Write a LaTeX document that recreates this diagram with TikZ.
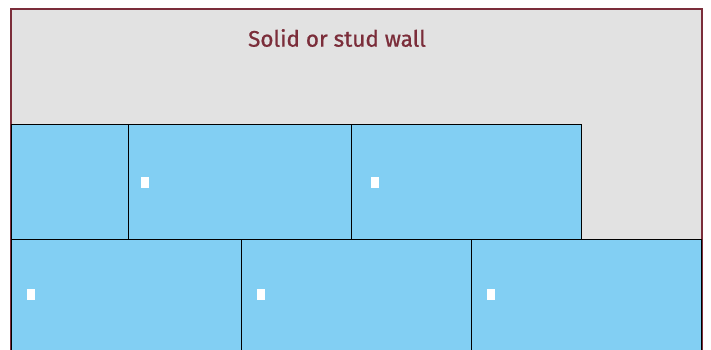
\documentclass[tikz,border=0pt]{standalone}
\usepackage{fontspec}
\setmainfont{Fira Sans}
\newfontfamily\titlefont[FakeBold=0.8]{Fira Sans}
\usepackage{xcolor}
\usetikzlibrary{positioning}
\definecolor{wallred}{HTML}{7B2D3A}
\definecolor{wallgrey}{HTML}{E2E2E2}
\definecolor{tileblue}{HTML}{82CFF3}

\begin{document}
\begin{tikzpicture}[x=1pt, y=-1pt,
  wall/.style={draw=wallred, fill=wallgrey, line width=1.6pt},
  tile/.style={draw=black, fill=tileblue, line width=0.8pt, inner sep=0pt, minimum height=115pt, anchor=north west},
  socket/.style={fill=white, inner sep=0pt, minimum width=8pt, minimum height=11pt, anchor=north west}
]
  \useasboundingbox (0,0) rectangle (711,350);
  \begin{scope}
  \clip (0,0) rectangle (711,350);
  \draw[wall] (11,9) rectangle (702,380);
  \node[font=\titlefont\fontsize{22.5}{24}\selectfont, text=wallred] (title) at (337,38) {Solid or stud wall};

  % top row of tiles
  \node[tile, minimum width=117pt] (t1) at (11,124) {};
  \node[tile, minimum width=223pt] (t2) at (128,124) {};
  \node[tile, minimum width=230pt] (t3) at (351,124) {};
  % bottom row of tiles
  \node[tile, minimum width=230pt] (b1) at (11,239) {};
  \node[tile, minimum width=230pt] (b2) at (241,239) {};
  \node[tile, minimum width=230pt] (b3) at (471,239) {};

  \node[socket] (s1) at (141,177) {};
  \node[socket] (s2) at (371,177) {};
  \node[socket] (s3) at (27,289) {};
  \node[socket] (s4) at (257,289) {};
  \node[socket] (s5) at (487,289) {};
  \end{scope}
\end{tikzpicture}
\end{document}
